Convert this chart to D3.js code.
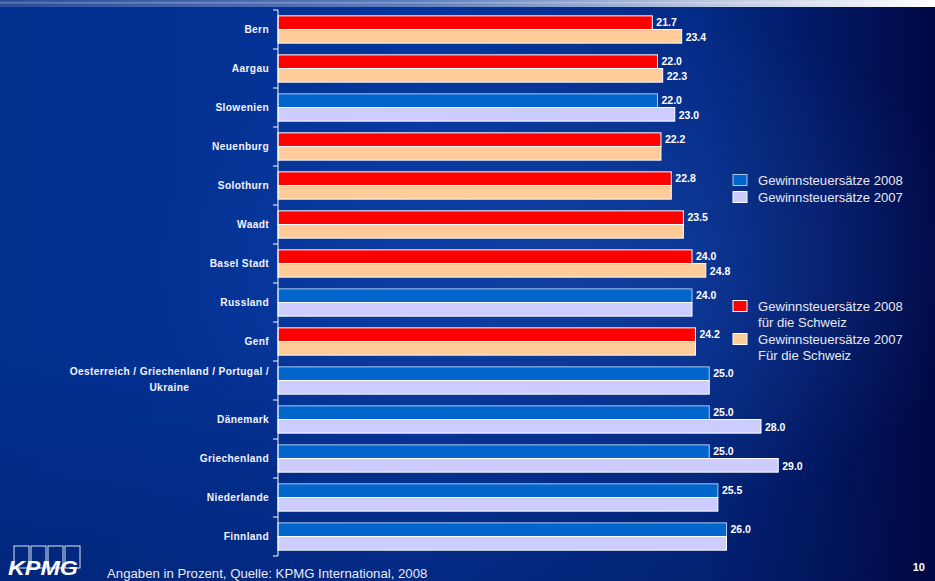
<!DOCTYPE html>
<html><head><meta charset="utf-8">
<script src="https://cdn.jsdelivr.net/npm/d3@7"></script>
<style>html,body{margin:0;padding:0;background:#002f94;}svg{display:block;}</style>
</head><body>
<svg id="chart" width="935" height="581"></svg>
<script>
const categories = ["Bern","Aargau","Slowenien","Neuenburg","Solothurn","Waadt","Basel Stadt","Russland","Genf","Oesterreich / Griechenland / Portugal /\nUkraine","Dänemark","Griechenland","Niederlande","Finnland"];
const isSwiss = [true,true,false,true,true,true,true,false,true,false,false,false,false,false];
const values2008 = [21.7,22.0,22.0,22.2,22.8,23.5,24.0,24.0,24.2,25.0,25.0,25.0,25.5,26.0];
const values2007 = [23.4,22.3,23.0,22.2,22.8,23.5,24.8,24.0,24.2,25.0,28.0,29.0,25.5,26.0];
const show2007Label = [true,true,true,false,false,false,true,false,false,false,true,true,false,false];
const legendLabels = [["Gewinnsteuersätze 2008"],["Gewinnsteuersätze 2007"],["Gewinnsteuersätze 2008","für die Schweiz"],["Gewinnsteuersätze 2007","Für die Schweiz"]];
const footnote = "Angaben in Prozent, Quelle: KPMG International, 2008";
const pageNumber = "10";

const colors = {b08:"#0066cc", b07:"#ccccff", s08:"#ff0000", s07:"#ffcc99"};
const svg = d3.select("#chart");
const defs = svg.append("defs");
const g1 = defs.append("linearGradient").attr("id","bg").attr("x1","0").attr("x2","1").attr("y1","0").attr("y2","0");
g1.append("stop").attr("offset","0%").attr("stop-color","#01308f");
g1.append("stop").attr("offset","45%").attr("stop-color","#05349a");
g1.append("stop").attr("offset","75%").attr("stop-color","#032a85");
g1.append("stop").attr("offset","100%").attr("stop-color","#000844");
const g2 = defs.append("radialGradient").attr("id","glow").attr("cx","0.62").attr("cy","0.45").attr("r","0.45");
g2.append("stop").attr("offset","0%").attr("stop-color","#2a5cc0").attr("stop-opacity",0.35);
g2.append("stop").attr("offset","100%").attr("stop-color","#2a5cc0").attr("stop-opacity",0);
const g3 = defs.append("linearGradient").attr("id","bottomShade").attr("x1","0").attr("x2","0").attr("y1","0").attr("y2","1");
g3.append("stop").attr("offset","60%").attr("stop-color","#000a40").attr("stop-opacity",0);
g3.append("stop").attr("offset","100%").attr("stop-color","#000a40").attr("stop-opacity",0.25);
const g4 = defs.append("linearGradient").attr("id","topStrip").attr("x1","0").attr("x2","1");
g4.append("stop").attr("offset","0%").attr("stop-color","#2b4d9c");
g4.append("stop").attr("offset","45%").attr("stop-color","#5f7fbf");
g4.append("stop").attr("offset","75%").attr("stop-color","#b8c4e0");
g4.append("stop").attr("offset","100%").attr("stop-color","#ffffff");

svg.append("rect").attr("width",935).attr("height",581).attr("fill","url(#bg)");
svg.append("rect").attr("width",935).attr("height",581).attr("fill","url(#glow)");
svg.append("rect").attr("width",935).attr("height",581).attr("fill","url(#bottomShade)");
svg.append("rect").attr("x",0).attr("y",0).attr("width",935).attr("height",7).attr("fill","url(#topStrip)");
svg.append("rect").attr("x",0).attr("y",2).attr("width",935).attr("height",1.5).attr("fill","#ffffff").attr("opacity",0.25);

const x = d3.scaleLinear().domain([0,30]).range([278,795.5]);
const y = d3.scaleBand().domain(categories).range([10,556]).paddingInner(0.3).paddingOuter(0.15);
const sub = d3.scaleBand().domain(["2008","2007"]).range([0,y.bandwidth()]);

const rows = categories.map((c,i)=>({c,i,swiss:isSwiss[i],v08:values2008[i],v07:values2007[i],show07:show2007Label[i]}));
const gRows = svg.append("g").selectAll("g").data(rows).join("g").attr("transform",d=>`translate(0,${y(d.c)})`);
gRows.append("rect").attr("x",x(0)).attr("y",sub("2008")).attr("width",d=>x(d.v08)-x(0)).attr("height",sub.bandwidth())
  .attr("fill",d=>d.swiss?colors.s08:colors.b08).attr("stroke",d=>d.swiss?"#ffffff":"#a8c8f0").attr("stroke-width",1);
gRows.append("rect").attr("x",x(0)).attr("y",sub("2007")).attr("width",d=>x(d.v07)-x(0)).attr("height",sub.bandwidth())
  .attr("fill",d=>d.swiss?colors.s07:colors.b07).attr("stroke","#ffffff").attr("stroke-width",1);
const vlab = s=>s.attr("fill","#ffffff").attr("font-family","Liberation Sans, Arial, sans-serif").attr("font-weight","bold").attr("font-size","10.5px").attr("dominant-baseline","central");
gRows.append("text").attr("x",d=>x(d.v08)+4).attr("y",sub("2008")+sub.bandwidth()/2-1).text(d=>d.v08.toFixed(1)).call(vlab);
gRows.filter(d=>d.show07).append("text").attr("x",d=>x(d.v07)+4).attr("y",sub("2007")+sub.bandwidth()/2+1).text(d=>d.v07.toFixed(1)).call(vlab);

// axis
const axisG = svg.append("g").attr("transform",`translate(${x(0)},0)`);
axisG.append("line").attr("x1",0).attr("x2",0).attr("y1",10).attr("y2",556).attr("stroke","#ffffff").attr("stroke-width",1);
const boundaries = categories.map(c=>y(c)-y.step()*y.paddingInner()/2).concat([556]);
axisG.selectAll("line.tick").data(boundaries).join("line").attr("class","tick").attr("x1",-5).attr("x2",0).attr("y1",d=>d).attr("y2",d=>d).attr("stroke","#ffffff");

// category labels
const labelStyle = s=>s.attr("fill","#f2f2f8").attr("font-family","Liberation Sans, Arial, sans-serif").attr("font-weight","bold").attr("font-size","10.2px").attr("letter-spacing","0.35px");
rows.forEach(d=>{
  const lines = d.c.split("\n");
  const cy = y(d.c)+y.bandwidth()/2;
  if(lines.length===1){
    svg.append("text").attr("x",269).attr("y",cy).attr("text-anchor","end").attr("dominant-baseline","central").text(lines[0]).call(labelStyle);
  } else {
    const t1 = svg.append("text").attr("x",269).attr("y",cy-9).attr("text-anchor","end").attr("dominant-baseline","central").text(lines[0]).call(labelStyle);
    const w = t1.node().getComputedTextLength();
    svg.append("text").attr("x",269-w/2).attr("y",cy+7).attr("text-anchor","middle").attr("dominant-baseline","central").text(lines[1]).call(labelStyle);
  }
});

// legend
const legendItems = [
  {color:colors.b08, stroke:"#a8c8f0", y:180},
  {color:colors.b07, stroke:"#ffffff", y:197},
  {color:colors.s08, stroke:"#ffffff", y:306},
  {color:colors.s07, stroke:"#ffffff", y:339}
];
legendItems.forEach((it,i)=>{
  svg.append("rect").attr("x",733).attr("y",it.y-5.5).attr("width",14).attr("height",11).attr("fill",it.color).attr("stroke",it.stroke).attr("stroke-width",1);
  legendLabels[i].forEach((t,j)=>{
    svg.append("text").attr("x",758).attr("y",it.y+j*16.5).attr("dominant-baseline","central").attr("fill","#e8e8f2")
      .attr("font-family","Liberation Sans, Arial, sans-serif").attr("font-size","13.1px").text(t);
  });
});

// footer
svg.append("text").attr("x",107).attr("y",578).attr("fill","#e8e8f2").attr("font-family","Liberation Sans, Arial, sans-serif").attr("font-size","13.2px").text(footnote);
svg.append("text").attr("x",925).attr("y",571).attr("text-anchor","end").attr("fill","#ffffff").attr("font-family","Liberation Sans, Arial, sans-serif").attr("font-weight","bold").attr("font-size","11px").text(pageNumber);

// KPMG logo
const logo = svg.append("g");
[14,31,48,65].forEach(bx=>{
  logo.append("rect").attr("x",bx).attr("y",546).attr("width",15).attr("height",22).attr("fill","none").attr("stroke","#dfe4f2").attr("stroke-width",1);
});
logo.append("text").attr("x",8).attr("y",575).attr("fill","#ffffff").attr("font-family","Liberation Sans, Arial, sans-serif").attr("font-weight","bold").attr("font-style","italic").attr("font-size","20px").attr("textLength",70).attr("lengthAdjust","spacingAndGlyphs").text("KPMG");
</script>
</body></html>
